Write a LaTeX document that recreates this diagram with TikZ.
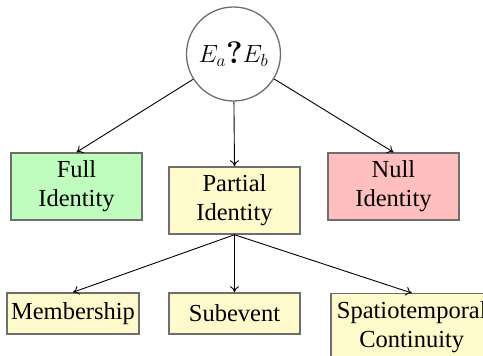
\documentclass[tikz,border=0pt]{standalone}
\usepackage{amsmath}
\usepackage[no-math]{fontspec}
\setmainfont{Liberation Serif}
\usetikzlibrary{arrows.meta}
\definecolor{boxgray}{HTML}{6E6E6E}
\definecolor{fullgreen}{HTML}{BFFDBF}
\definecolor{partyellow}{HTML}{FFFACC}
\definecolor{nullred}{HTML}{FFBFBF}
\tikzset{
  idbox/.style={draw=boxgray, line width=1.5pt, rectangle, align=center, inner sep=1pt,
    font=\fontsize{24.5}{29}\selectfont},
  conn/.style={-{To[length=6pt,width=9pt]}, line width=0.9pt, black}
}
\begin{document}
\begin{tikzpicture}[x=1pt,y=1pt]
\useasboundingbox (0,0) rectangle (483,356);
\node[circle, draw=boxgray, line width=1.3pt, minimum size=94pt, inner sep=0pt,
  font=\fontsize{27}{32}\selectfont] (q) at (233.5,302) {$E_a\raisebox{-0.5pt}{\scalebox{1.25}{$\boldsymbol{?}$}}E_b$};
\node[idbox, fill=fullgreen, minimum width=131pt, minimum height=67pt] (full) at (76.5,169.5) {Full\\Identity};
\node[idbox, fill=partyellow, minimum width=131pt, minimum height=67pt] (partial) at (234.5,155.5) {Partial\\Identity};
\node[idbox, fill=nullred, minimum width=131pt, minimum height=67pt] (null) at (393.5,169.5) {Null\\Identity};
\node[idbox, fill=partyellow, minimum width=132pt, minimum height=41pt] (memb) at (73,42.5) {Membership};
\node[idbox, fill=partyellow, minimum width=131pt, minimum height=41pt] (sub) at (234.5,42.5) {Subevent};
\node[idbox, fill=partyellow, minimum width=162pt, minimum height=67pt, anchor=north west] (spat) at (330,63) {Spatiotemporal\\Continuity};
\draw[conn] (q) -- (full.north);
\draw[conn] (q) -- (partial.north);
\draw[conn] (q) -- (null.north);
\draw[conn] (partial.south) -- (memb.north);
\draw[conn] (partial.south) -- (sub.north);
\draw[conn] (partial.south) -- (spat.north);
\end{tikzpicture}
\end{document}
